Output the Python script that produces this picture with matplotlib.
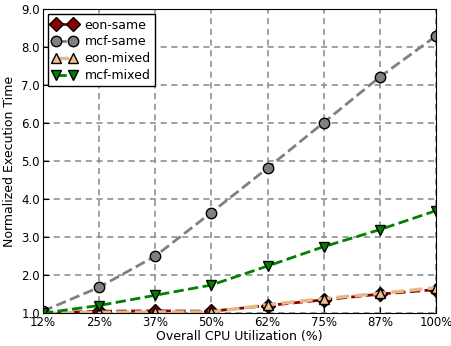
import matplotlib
matplotlib.use("Agg")
import matplotlib.pyplot as plt

# x categories (overall CPU utilization)
labels = ["12%", "25%", "37%", "50%", "62%", "75%", "87%", "100%"]

# normalized execution time
eon_same = [1.0, 1.05, 1.06, 1.05, 1.20, 1.35, 1.50, 1.62]
mcf_same = [1.05, 1.68, 2.50, 3.65, 4.82, 6.02, 7.22, 8.30]
eon_mixed = [1.0, 1.02, 1.03, 1.03, 1.22, 1.38, 1.52, 1.67]
mcf_mixed = [1.0, 1.20, 1.47, 1.74, 2.24, 2.75, 3.20, 3.70]

x = list(range(len(labels)))

fig = plt.figure(figsize=(4.51, 3.46), dpi=100)
ax = fig.add_axes([0.095, 0.095, 0.872, 0.878])

ax.plot(x, eon_same, ls="--", lw=2, color="#8b0000", marker="D", ms=7,
        mfc="#8b0000", mec="black", label="eon-same")
ax.plot(x, mcf_same, ls="--", lw=2, color="gray", marker="o", ms=7.5,
        mfc="gray", mec="black", label="mcf-same")
ax.plot(x, eon_mixed, ls="--", lw=2.5, color="#e8b88a", marker="^", ms=7,
        mfc="#f0c090", mec="black", label="eon-mixed")
ax.plot(x, mcf_mixed, ls="--", lw=2, color="green", marker="v", ms=7.5,
        mfc="green", mec="black", label="mcf-mixed")

ax.set_xlim(0, len(labels) - 1)
ax.set_ylim(1, 9)
ax.set_xticks(x)
ax.set_xticklabels(labels, fontsize=8.5)
ax.set_yticks(range(1, 10))
ax.set_yticklabels(["%.1f" % v for v in range(1, 10)], fontsize=8.5)
ax.tick_params(direction="in", length=4, pad=2)
ax.grid(True, ls=(0, (4, 3)), color="#888888", lw=1.1)
ax.set_xlabel("Overall CPU Utilization (%)", fontsize=9, labelpad=1)
ax.set_ylabel("Normalized Execution Time", fontsize=9)

leg = ax.legend(loc="upper left", numpoints=2, fontsize=9, fancybox=False,
                framealpha=1, edgecolor="black", handlelength=2,
                borderaxespad=0.4, labelspacing=0.3, handletextpad=0.6,
                borderpad=0.35)
leg.get_frame().set_linewidth(1)

fig.savefig("out.png", dpi=100)
